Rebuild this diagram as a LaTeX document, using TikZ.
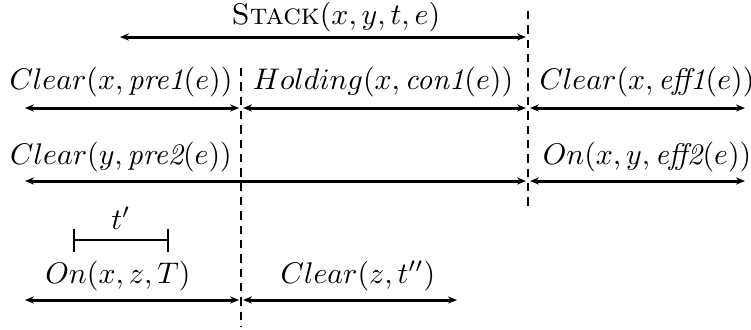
\documentclass[tikz,border=0pt]{standalone}
\usetikzlibrary{arrows.meta}
\begin{document}
\begin{tikzpicture}[x=0.335pt, y=-0.335pt, >={Stealth[length=3pt,width=2.4pt]}, line cap=butt]
	\tikzset{span/.style={<->, line width=1pt},
		cut/.style={line width=0.7pt, dash pattern=on 2.8pt off 2pt},
		tick/.style={{Bar[width=7.7pt]}-{Bar[width=7.7pt]}, line width=0.8pt},
		lbl/.style={inner sep=0pt}}
	\useasboundingbox (0,0) rectangle (751,329);
	% dashed cuts
	\coordinate (cutLtop) at (241,68);
	\coordinate (cutLbot) at (241,327);
	\coordinate (cutRtop) at (528,11);
	\coordinate (cutRbot) at (528,210);
	\draw[cut] (cutLtop) -- (cutLbot);
	\draw[cut] (cutRtop) -- (cutRbot);
	% Stack
	\coordinate (stackL) at (120,37);
	\coordinate (stackR) at (526,37);
	\draw[span] (stackL) -- (stackR);
	\node[lbl] (stack) at (336,17) {$\textsc{Stack}(x,y,t,e)$};
	% first row
	\coordinate (r1a) at (25,108);
	\coordinate (r1b) at (239,108);
	\coordinate (r1c) at (243,108);
	\coordinate (r1d) at (526,108);
	\coordinate (r1e) at (530,108);
	\coordinate (r1f) at (745,108);
	\draw[span] (r1a) -- (r1b);
	\draw[span] (r1c) -- (r1d);
	\draw[span] (r1e) -- (r1f);
	\node[lbl] (clearx) at (121,82) {$Clear(x,\textit{pre1}(e))$};
	\node[lbl] (holding) at (383,82) {$Holding(x,\textit{con1}(e))$};
	\node[lbl] (clearxe) at (647,82) {$Clear(x,\textit{eff1}(e))$};
	% second row
	\coordinate (r2a) at (25,181);
	\coordinate (r2b) at (526,181);
	\coordinate (r2c) at (530,181);
	\coordinate (r2d) at (745,181);
	\draw[span] (r2a) -- (r2b);
	\draw[span] (r2c) -- (r2d);
	\node[lbl] (cleary) at (121,157) {$Clear(y,\textit{pre2}(e))$};
	\node[lbl] (onxy) at (647,157) {$On(x,y,\textit{eff2}(e))$};
	% interval t'
	\coordinate (tL) at (73,240);
	\coordinate (tR) at (169,240);
	\draw[tick] (tL) -- (tR);
	\node[lbl] (tprime) at (121,218) {$t'$};
	% third row
	\coordinate (r3a) at (25,300);
	\coordinate (r3b) at (239,300);
	\coordinate (r3c) at (243,300);
	\coordinate (r3d) at (457,300);
	\draw[span] (r3a) -- (r3b);
	\draw[span] (r3c) -- (r3d);
	\node[lbl] (onxz) at (118,276) {$On(x,z,T)$};
	\node[lbl] (clearz) at (358,276) {$Clear(z,t'')$};
\end{tikzpicture}
\end{document}
